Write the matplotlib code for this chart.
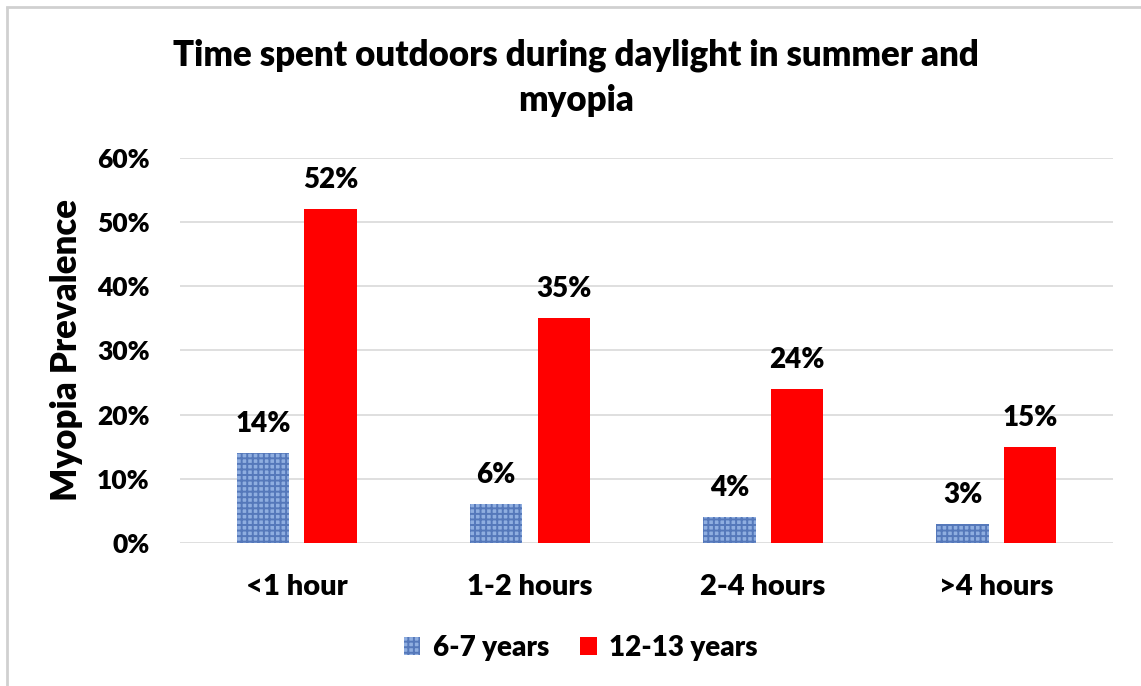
import matplotlib.pyplot as plt
import numpy as np
from matplotlib.patches import Rectangle

# ------------------------------------------------------------------------
# Data

categories = ['<1 hour', '1-2 hours', '2-4 hours', '>4 hours']
young = [14, 6, 4, 3]       # 6-7 years
older = [52, 35, 24, 15]    # 12-13 years
series_names = ['6-7 years', '12-13 years']
yticks = [0, 10, 20, 30, 40, 50, 60]

# ------------------------------------------------------------------------
# Style

plt.rcParams['font.family'] = ['Lato', 'DejaVu Sans']
plt.rcParams['font.weight'] = 'heavy'
plt.rcParams['hatch.linewidth'] = 1.4

blue_face = '#8FAEE0'
blue_hatch = '#5578BA'
red = '#FF0000'
grid = '#D9D9D9'
WT = 'heavy'

W = 0.225
off = 0.145

# --------
# Plotting

fig = plt.figure(figsize=(11.41, 6.86), dpi=100)
ax = fig.add_axes([0.1578, 0.2085, 0.9755 - 0.1578, 0.7697 - 0.2085])

x = np.arange(len(categories))
b1 = ax.bar(x - off, young, W, color=blue_face, edgecolor=blue_hatch,
            linewidth=0, hatch='+++', label=series_names[0], zorder=3)
b2 = ax.bar(x + off, older, W, color=red, linewidth=0,
            label=series_names[1], zorder=3)

for bars in (b1, b2):
    for r in bars:
        h = r.get_height()
        ax.annotate('%d%%' % h, (r.get_x() + r.get_width() / 2, h),
                    xytext=(0, 29), textcoords='offset pixels',
                    ha='center', va='center', fontsize=20, fontweight=WT)

ax.set_xlim(-0.5, 3.5)
ax.set_ylim(0, 60)
ax.set_yticks(yticks)
ax.set_yticklabels(['%d%%' % v for v in yticks], fontweight=WT)
ax.set_xticks(x)
ax.set_xticklabels(categories, fontweight=WT)
ax.tick_params(axis='y', length=0, pad=22, labelsize=19)
ax.tick_params(axis='x', length=0, pad=22, labelsize=21)
ax.yaxis.grid(True, color=grid, linewidth=1.2, zorder=0)
ax.set_axisbelow(True)
for s in ax.spines.values():
    s.set_visible(False)

ax.set_ylabel('Myopia Prevalence', fontsize=25, fontweight=WT, labelpad=10)

fig.text(0.505, 1 - 78 / 686., 'Time spent outdoors during daylight in summer and\nmyopia',
         ha='center', va='center', fontsize=25, fontweight=WT, linespacing=1.45)

ax.legend(loc='center', bbox_to_anchor=(0.509, 1 - 648 / 686.), bbox_transform=fig.transFigure,
          ncol=2, frameon=False, prop={'size': 20, 'weight': WT},
          handlelength=0.6, handleheight=0.6, columnspacing=1.1, handletextpad=0.45)

# light frame edges on the left and top
fig.add_artist(Rectangle((7 / 1141., 0), 0, 1 - 7 / 686., transform=fig.transFigure,
                         edgecolor='#D0D0D0', linewidth=2, fill=False))
fig.add_artist(plt.Line2D([7 / 1141., 1], [1 - 7 / 686., 1 - 7 / 686.],
                          transform=fig.transFigure, color='#D0D0D0', linewidth=2))

fig.savefig('out.png', dpi=100)
